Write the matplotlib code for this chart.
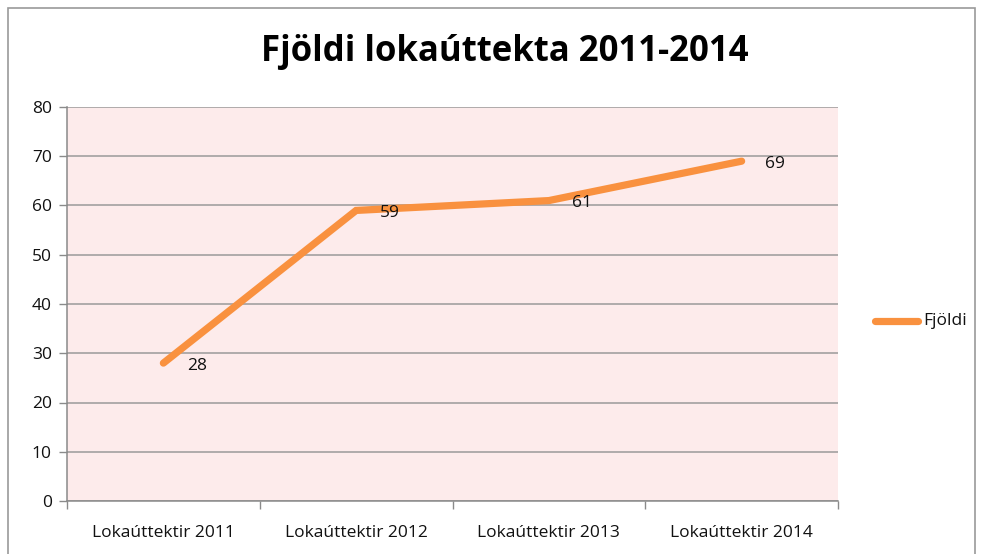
import matplotlib
matplotlib.use("Agg")
import matplotlib.pyplot as plt
from matplotlib.patches import Rectangle
from matplotlib.lines import Line2D

categories = ["Lokaúttektir 2011", "Lokaúttektir 2012", "Lokaúttektir 2013", "Lokaúttektir 2014"]
values = [28, 59, 61, 69]
series_name = "Fjöldi"
title = "Fjöldi lokaúttekta 2011-2014"
yticks = [0, 10, 20, 30, 40, 50, 60, 70, 80]

W, H = 984, 554
fig = plt.figure(figsize=(W / 100, H / 100), dpi=100)
plt.rcParams['font.family'] = ['Open Sans', 'DejaVu Sans']

# chart border
fig.patches.append(Rectangle((8 / W, -0.05), (975 - 8) / W, (H - 8) / H + 0.05,
                             transform=fig.transFigure, fill=False,
                             edgecolor="#9a9a9a", linewidth=1.2))

ax = fig.add_axes([67 / W, 1 - 501 / H, (838 - 67) / W, (501 - 107) / H])
ax.set_facecolor("#FDEBEB")
x = list(range(len(categories)))
orange = "#F9913F"
ax.plot(x, values, color=orange, linewidth=5.2, solid_capstyle="round",
        solid_joinstyle="miter", zorder=3)
for xi, v in zip(x, values):
    ax.annotate(str(v), (xi, v), xytext=(24, -2), textcoords="offset points",
                ha="center", va="center", fontsize=12.5, color="#111111", zorder=4)

ax.set_xlim(-0.5, len(categories) - 0.5)
ax.set_ylim(0, 80)
ax.set_yticks(yticks)
ax.set_yticklabels([str(t) for t in yticks], fontsize=12.5, color="#111111")
ax.set_xticks(x)
ax.set_xticklabels(categories, fontsize=12.5, color="#111111")
ax.set_xticks([i - 0.5 for i in range(len(categories) + 1)], minor=True)
ax.tick_params(axis="x", which="major", length=0, pad=17)
ax.tick_params(axis="x", which="minor", length=6, color="#8a8a8a", width=1)
ax.tick_params(axis="y", length=6, color="#8a8a8a", width=1, pad=5)
ax.grid(axis="y", color="#9a9a9a", linewidth=1.1, zorder=1)
ax.set_axisbelow(True)
for s in ["top", "right"]:
    ax.spines[s].set_visible(False)
ax.spines["left"].set_color("#8a8a8a")
ax.spines["bottom"].set_color("#8a8a8a")
ax.spines["left"].set_linewidth(1.1)
ax.spines["bottom"].set_linewidth(1.1)

fig.text(505 / W, 1 - 52 / H, title, ha="center", va="center",
         fontsize=25, fontweight="bold", color="#000000")

# legend
fig.lines.append(Line2D([875 / W, 918 / W], [1 - 321 / H, 1 - 321 / H],
                        transform=fig.transFigure, color=orange, linewidth=5.2,
                        solid_capstyle="round"))
fig.text(923 / W, 1 - 321 / H, series_name, ha="left", va="center",
         fontsize=12.5, color="#111111")

fig.savefig("out.png", dpi=100)
